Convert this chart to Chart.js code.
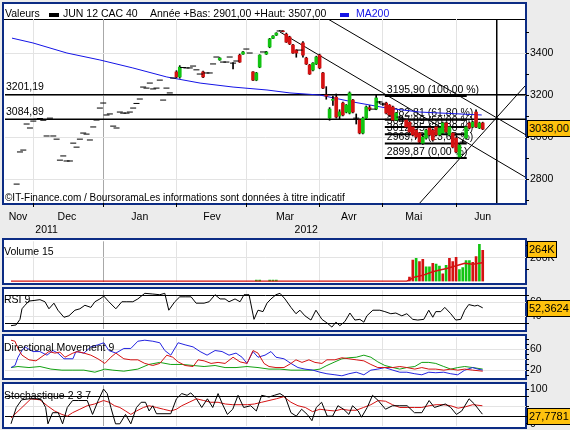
<!DOCTYPE html>
<html>
<head>
<meta charset="utf-8">
<title>JUN 12 CAC 40</title>
<script src="https://cdn.jsdelivr.net/npm/chart.js@4.4.1/dist/chart.umd.min.js"></script>
<style>
  html, body { margin: 0; padding: 0; }
  body { width: 570px; height: 430px; background: #ececec; position: relative; overflow: hidden;
         font-family: "Liberation Sans", Arial, sans-serif; font-size: 10.5px; color: #000; }
  .panel { position: absolute; left: 2px; width: 521px; background: #fff; border: 2px solid #0c2c84; }
  canvas { position: absolute; left: 0; }
  .txt { position: absolute; white-space: nowrap; line-height: 12px; }
  .sq { position: absolute; height: 4px; }
  .val { position: absolute; left: 527px; height: 15px; line-height: 15px; background: #ffc20e;
         border: 1px solid #000; font-size: 11px; padding: 0 1px; white-space: nowrap; }
</style>
</head>
<body>
<div class="panel" style="top:2px;height:199px"></div>
<div class="panel" style="top:238px;height:43px"></div>
<div class="panel" style="top:287px;height:41px"></div>
<div class="panel" style="top:334px;height:42px"></div>
<div class="panel" style="top:382px;height:43px"></div>
<div style="position:absolute;left:4px;top:19px;width:521px;height:1px;background:#000"></div>

<canvas id="priceChart" width="570" height="240" style="top:0"></canvas>
<canvas id="volChart" width="570" height="55" style="top:234px"></canvas>
<canvas id="rsiChart" width="570" height="53" style="top:283px"></canvas>
<canvas id="dmChart" width="570" height="54" style="top:330px"></canvas>
<canvas id="stochChart" width="570" height="55" style="top:378px"></canvas>

<div class="txt" style="left:5px;top:7px">Valeurs</div>
<div class="sq" style="left:49px;top:13px;width:10px;background:#000"></div>
<div class="txt" style="left:63px;top:7px">JUN 12 CAC 40</div>
<div class="txt" style="left:150px;top:7px">Année +Bas: 2901,00 +Haut: 3507,00</div>
<div class="sq" style="left:340px;top:13px;width:9px;background:#1414e6"></div>
<div class="txt" style="left:356px;top:7px;color:#1414e6">MA200</div>
<div class="txt" style="left:5px;top:192px;font-size:10px">©IT-Finance.com / BoursoramaLes informations sont données à titre indicatif</div>

<div class="txt" style="left:4px;top:245px">Volume 15</div>
<div class="txt" style="left:4px;top:293px">RSI 9</div>
<div class="txt" style="left:4px;top:341px">Directional Movement 9</div>
<div class="txt" style="left:4px;top:389px">Stochastique 2 3 7</div>

<div class="val" style="top:120px">3038,00</div>
<div class="val" style="top:241px">264K</div>
<div class="val" style="top:300px">52,3624</div>
<div class="val" style="top:408px">27,7781</div>

<script>
// x axis is counted in trading sessions (0 = mid Nov 2011)
const xMin = -0.5, xMax = 156;
const monthStarts = [8, 29, 51, 72, 94, 113, 135];
const yearStart = 29;
const monthMids = [3.4, 18.1, 40, 61.7, 83.6, 102.8, 122.3, 143];
const monthNames = ['Nov', 'Dec', 'Jan', 'Fev', 'Mar', 'Avr', 'Mai', 'Jun'];
const yearMids = [12, 90];
const yearNames = ['2011', '2012'];
const priceTicks = [2700, 2800, 2900, 3000, 3100, 3200, 3300, 3400, 3500];

// sessions 3..50: only a close is drawn
const firstDay = 3;
const earlyCloses = [2776, 2929, 2938, 3062, 3043, 3076, 3085, 3088, 3080, 3005,
  3090, 3005, 2990, 2890, 2910, 2886, 2886, 2971, 2952, 2990,
  3019, 3014, 2986, 3048, 3081, 3138, 3162, 3105, 3110, 3052,
  3043, 3119, 3114, 3114, 3119, 3138, 3160, 3181, 3238, 3233,
  3257, 3229, 3233, 3271, 3176, 3233, 3210, 3281];

// sessions 51..143: full candles
const candleStart = 51;
const opens = [3310, 3286, 3331, 3329, 3329, 3338, 3320, 3300, 3310, 3305,
  3305, 3348, 3381, 3367, 3357, 3357, 3381, 3352, 3362, 3390,
  3395, 3419, 3400, 3310, 3271, 3333, 3405, 3395, 3429, 3470,
  3485, 3505, 3505, 3490, 3476, 3438, 3414, 3414, 3448, 3376,
  3343, 3319, 3348, 3390, 3305, 3200, 3090, 3175, 3190, 3100,
  3162, 3119, 3114, 3176, 3090, 3081, 3019, 3090, 3140, 3133,
  3133, 3167, 3157, 3162, 3152, 3143, 3081, 3095, 3086, 3081,
  3071, 3048, 3033, 3019, 2971, 2995, 3043, 3033, 3048, 3010,
  3019, 3067, 3010, 3019, 2995, 2905, 2976, 2995, 3067, 3048,
  3119, 3043, 3067];
const highs = [3316, 3340, 3331, 3329, 3329, 3338, 3320, 3300, 3314, 3305,
  3305, 3348, 3381, 3378, 3357, 3357, 3381, 3355, 3362, 3395,
  3408, 3419, 3400, 3312, 3308, 3392, 3405, 3408, 3470, 3483,
  3497, 3507, 3507, 3495, 3480, 3442, 3416, 3414, 3455, 3380,
  3346, 3355, 3385, 3395, 3308, 3240, 3140, 3195, 3205, 3130,
  3166, 3155, 3215, 3180, 3110, 3085, 3095, 3148, 3150, 3133,
  3200, 3170, 3162, 3166, 3155, 3147, 3118, 3100, 3092, 3085,
  3075, 3052, 3038, 3022, 3005, 3038, 3048, 3038, 3052, 3048,
  3071, 3071, 3052, 3022, 2998, 2966, 2985, 3052, 3071, 3075,
  3130, 3071, 3071];
const lows = [3282, 3280, 3331, 3329, 3329, 3338, 3320, 3300, 3283, 3305,
  3305, 3348, 3381, 3365, 3357, 3357, 3381, 3324, 3362, 3355,
  3393, 3419, 3400, 3268, 3268, 3330, 3405, 3393, 3425, 3468,
  3483, 3505, 3500, 3450, 3440, 3398, 3380, 3414, 3380, 3345,
  3298, 3315, 3345, 3325, 3230, 3180, 3080, 3150, 3090, 3085,
  3100, 3115, 3110, 3115, 3062, 3015, 3015, 3085, 3125, 3133,
  3130, 3160, 3150, 3110, 3100, 3078, 3078, 3090, 3082, 3045,
  3020, 3005, 2995, 2970, 2965, 2990, 3005, 2980, 3005, 3005,
  3015, 3020, 3005, 2948, 2925, 2900, 2970, 2990, 3040, 3045,
  3045, 3040, 3035];
const closes = [3286, 3333, 3331, 3329, 3329, 3338, 3320, 3300, 3286, 3305,
  3305, 3348, 3381, 3376, 3357, 3357, 3381, 3352, 3362, 3357,
  3405, 3419, 3400, 3271, 3305, 3390, 3405, 3405, 3467, 3481,
  3495, 3505, 3502, 3452, 3443, 3400, 3400, 3414, 3390, 3348,
  3300, 3352, 3381, 3329, 3233, 3195, 3133, 3180, 3095, 3120,
  3105, 3152, 3210, 3119, 3090, 3019, 3090, 3143, 3133, 3133,
  3186, 3167, 3157, 3114, 3105, 3081, 3114, 3095, 3086, 3048,
  3024, 3010, 3000, 2976, 3000, 3033, 3010, 2986, 3010, 3043,
  3067, 3024, 3048, 2952, 2929, 2962, 2976, 3048, 3043, 3071,
  3048, 3067, 3038];

const ma200 = [[1.6, 3471], [7.9, 3448], [18.1, 3400], [28, 3367], [37.9, 3329], [48.1, 3286],
  [58.1, 3257], [68, 3238], [78.2, 3224], [85.1, 3210], [94.1, 3200], [104, 3167],
  [114.2, 3138], [124.1, 3119], [142.7, 3105]];

const supportLevels = [3201.19, 3084.89];
const fibLevels = [3195.90, 3082.81, 3047.89, 3012.95, 2969.73, 2899.87];
const fibPct = ['100,00 %', '61,80 %', '50,00 %', '38,20 %', '23,60 %', '0,00 %'];
const fibSpan = [113.6, 138.2];
const trendLines = [
  [[96.5, 3562], [156, 3010]],
  [[82.1, 3500], [155.7, 2810]],
  [[124.1, 2686], [155.7, 3243]],
  [[147.2, 3562], [147.2, 2686]]
];

// volume
const volStart = 121;
const volumes = [35, 180, 195, 168, 186, 122, 122, 152, 146, 128, 64, 136, 195, 168, 204,
  99, 116, 176, 176, 160, 210, 314, 264].map(v => v * 1000);
const volUp = [0, 0, 1, 0, 0, 1, 1, 0, 1, 1, 0, 1, 0, 0, 0, 1, 1, 1, 1, 0, 0, 1, 0];
const earlyVolDays = [75, 76, 79, 80, 81];
const earlyVols = [10000, 10000, 10000, 10000, 10000];
const volMA = [[1.3, 0], [120.2, 0], [122.5, 35000], [124.7, 48000], [128, 80000], [130.1, 96000],
  [132.2, 108000], [134.5, 128000], [137.6, 152000], [140, 144000], [142.9, 157000]];

const rsi = [[1.3, 27], [2.8, 28], [4, 36], [4.6, 51], [5.5, 56], [6.7, 62], [8.5, 63], [10, 64],
  [11.5, 61], [12.7, 51], [14.2, 59], [15.4, 49], [17.2, 39], [18.7, 41], [20.5, 49], [22, 51],
  [23.5, 56], [25.3, 53], [26.5, 61], [28, 65], [29.2, 69], [30.7, 61], [32.8, 51], [34.6, 61],
  [36.1, 61], [37.9, 61], [39.4, 65], [41.5, 73], [43.9, 72], [46, 71], [47.5, 73], [48.7, 49],
  [50.5, 61], [52, 68], [53.6, 68], [55.4, 68], [56.9, 59], [59.3, 59], [60.8, 61], [62.6, 71],
  [64.1, 65], [65.6, 65], [66.8, 61], [68.6, 65], [70.1, 61], [71.3, 71], [72.8, 71], [74.3, 36],
  [75.5, 49], [77, 47], [78.2, 59], [79.4, 65], [80.9, 71], [82.1, 73], [83.6, 65], [85.4, 53],
  [86.9, 44], [88.1, 49], [89.6, 41], [91.4, 35], [92.9, 49], [94.7, 36], [96.2, 31], [97.7, 25],
  [98.9, 32], [100.1, 27], [101.6, 33], [103.1, 45], [104.6, 35], [106.1, 36], [107.3, 32], [108.2, 41],
  [110, 49], [112.1, 49], [113.6, 47], [115.4, 44], [116.9, 45], [118.7, 41], [120.2, 44], [122, 36],
  [123.5, 35], [125.3, 36], [126.8, 49], [128, 39], [128.9, 47], [130.4, 47], [131.6, 53], [133.4, 44],
  [134.9, 35], [136.4, 36], [137.6, 49], [138.8, 57], [140.6, 55], [141.5, 56], [143, 52.36]];

const dmMinus = [[1.3, 78], [2.5, 76], [3.4, 62], [4.6, 49], [6.7, 40], [8.8, 38], [11.2, 49], [12.7, 56],
  [14.5, 53], [16, 55], [17.5, 45], [19.9, 53], [21.4, 56], [23.2, 53], [25.3, 49], [27.4, 42],
  [29.5, 33], [31.3, 45], [32.8, 53], [35.2, 42], [37.3, 40], [39.4, 40], [41.5, 33], [43.9, 29],
  [46, 33], [48.1, 49], [49.9, 45], [51.5, 36], [53.6, 29], [56, 27], [57.5, 40], [59.3, 38],
  [61.4, 33], [63.5, 35], [65.6, 33], [68, 45], [70.1, 36], [72.2, 33], [74, 58], [75.5, 53],
  [77.3, 33], [78.8, 27], [80.9, 25], [83.3, 25], [85.4, 33], [86.9, 40], [88.7, 35], [90.8, 40],
  [92.6, 35], [94.7, 33], [96.2, 40], [98.6, 40], [100.7, 44], [102.8, 42], [105, 40], [107.3, 38],
  [109.4, 31], [111.5, 25], [113.6, 25], [116, 25], [118.1, 27], [120.2, 25], [122.6, 22], [124.7, 25],
  [126.8, 22], [128.9, 22], [131.3, 20], [133.4, 22], [135.5, 20], [137.6, 22], [140, 20], [143, 18]];
const dmPlus = [[1.3, 25], [2.5, 29], [3.4, 45], [4.6, 58], [5.5, 65], [7.9, 56], [10, 56], [12.1, 49],
  [13.9, 58], [15.4, 53], [17.2, 42], [19.9, 42], [20.8, 56], [23.2, 53], [25.3, 65], [27.4, 69],
  [29.2, 73], [30.7, 58], [32.8, 53], [35.2, 62], [37.3, 62], [39.4, 76], [41.5, 78], [43.9, 76],
  [46, 73], [47.5, 58], [49.3, 49], [51.5, 73], [53.6, 69], [56, 65], [58.1, 56], [60.2, 49],
  [62.6, 58], [64.7, 56], [66.8, 49], [68.9, 53], [70.7, 45], [72.2, 33], [74, 56], [75.5, 45],
  [77.6, 49], [79.4, 56], [80.9, 45], [83.3, 42], [85.4, 33], [87.5, 25], [89.6, 22], [92, 20],
  [94.1, 16], [96.2, 13], [98.6, 11], [100.7, 9], [102.8, 13], [105, 16], [107.3, 11], [109.4, 20],
  [111.5, 22], [113.6, 25], [116, 20], [118.1, 16], [120.2, 16], [122.6, 13], [124.7, 11], [126.8, 16],
  [128.9, 15], [131.3, 16], [133.4, 13], [135.5, 11], [137.6, 20], [140, 25], [141.5, 22], [143, 20]];
const adxDays = [1.3, 3.4, 6.7, 10, 13.3, 16.6, 19.9, 23.2, 26.5, 29.5, 31.9, 35.2, 39.4, 42.7, 46, 49.3,
  52.7, 56, 59.3, 62.6, 65.6, 68.9, 72.2, 75.5, 78.8, 82.1, 85.4, 88.7, 92, 94.1, 96.2, 98.6,
  100.7, 102.8, 105, 107.3, 109.4, 111.5, 113.6, 116, 118.1, 120.2, 122.6, 124.7, 126.8, 128.9,
  131.3, 133.4, 135.5, 137.6, 140, 143];
const adx = [25, 27, 25, 27, 22, 20, 20, 20, 16, 22, 20, 18, 22, 31, 35, 31, 31, 29, 27, 29, 25, 25, 27, 25,
  22, 22, 20, 20, 20, 22, 29, 36, 42, 44, 45, 49, 45, 36, 29, 25, 22, 25, 27, 35, 35, 33, 27, 22,
  25, 27, 25, 22];

const stochKDays = [1.3, 2.9, 4.5, 6.7, 8.9, 10.5, 11.7, 12.4, 13.8, 15.5, 16.8, 18.2, 19.8, 21.5, 24.2, 25.8,
  27.5, 29.1, 30.2, 31.3, 32.7, 34, 35.7, 37.3, 39, 40.4, 41.7, 42.8, 43.9, 45, 49.3, 51, 52.6, 54.2,
  55.3, 57, 58.6, 60.3, 61.9, 63.5, 64.8, 66.3, 67.9, 69.5, 71.2, 73.3, 75, 76.6, 78.8, 80.4, 82.1,
  83.7, 85.4, 87, 88.6, 90.3, 91.7, 93, 94.6, 96.3, 97.9, 99.5, 101.2, 102.8, 103.9, 105.6, 106.6,
  108.3, 109.9, 111.6, 113.8, 115.9, 118.1, 120.3, 122.5, 124.7, 126.9, 128.5, 130.1, 131.8, 133.4,
  135.1, 136.7, 138.9, 140.5, 142.9];
const stochK = [0, 47, 69, 72, 72, 69, 47, 0, 32, 32, 0, 47, 67, 67, 67, 27, 67, 100, 87, 47,
  0, 0, 27, 0, 47, 62, 62, 37, 52, 29, 29, 72, 87, 82, 89, 72, 47, 72, 47, 87,
  57, 27, 42, 82, 47, 52, 37, 82, 77, 82, 87, 77, 32, 22, 42, 27, 9, 47, 62, 22,
  22, 52, 42, 27, 52, 37, 19, 47, 82, 67, 42, 52, 52, 52, 32, 32, 67, 47, 52, 57,
  47, 27, 37, 72, 57, 27.78];
const stochDDays = [1.3, 4.6, 7.3, 10, 12.2, 14.4, 16.6, 18.2, 19.8, 22, 24.2, 26.4, 29.1, 30.8, 32.4, 34,
  35.7, 37.3, 39, 41.1, 42.8, 45, 47.1, 49.3, 51, 52.6, 54.8, 57, 59.2, 61.3, 63.5, 65.7, 67.9, 70.1,
  72.3, 74.4, 76.6, 78.8, 81, 83.2, 85.4, 87.5, 89.7, 91.9, 94.1, 96.3, 98.5, 100.6, 102.8, 105,
  107.2, 109.4, 111.6, 113.8, 115.9, 118.1, 120.3, 122.5, 124.7, 126.9, 129, 131.2, 133.4, 135.6,
  137.8, 140, 142.9];
const stochD = [17, 47, 72, 69, 52, 37, 27, 22, 32, 42, 52, 57, 67, 62, 52, 47, 37, 27, 37, 47,
  52, 47, 42, 37, 42, 52, 62, 72, 67, 62, 62, 57, 55, 55, 55, 57, 62, 67, 72, 78,
  62, 52, 47, 35, 42, 39, 37, 42, 39, 39, 47, 55, 67, 65, 55, 47, 47, 47, 47, 52,
  55, 55, 52, 45, 49, 55, 52];

const GREEN = '#12c412', RED = '#d41212', GRID = '#e3e3e3', NONE = 'rgba(0,0,0,0)';

Chart.defaults.font.family = '"Liberation Sans", Arial, sans-serif';
Chart.defaults.font.size = 10.5;
Chart.defaults.color = '#000';

const fmt = v => v.toFixed(2).replace('.', ',');
const pts = arr => arr.map(([x, y]) => ({ x, y }));
const zip = (xs, ys) => xs.map((x, i) => ({ x, y: ys[i] }));
const hLine = v => [{ x: xMin, y: v }, { x: xMax, y: v }];
const line = (data, color, width, order) => ({
  type: 'line', data, borderColor: color, borderWidth: width, pointRadius: 0,
  fill: false, tension: 0, order
});

function timeScale(withLabels) {
  const isStart = c => c.tick && monthStarts.includes(c.tick.value);
  return {
    type: 'linear', min: xMin, max: xMax, offset: false,
    afterBuildTicks: s => {
      const vals = withLabels ? monthStarts.concat(monthMids, yearMids) : monthStarts.slice();
      s.ticks = vals.sort((a, b) => a - b).map(v => ({ value: v }));
    },
    afterFit: s => { s.height = withLabels ? 37 : 0; s.paddingLeft = 0; s.paddingRight = 0; },
    grid: {
      offset: false,
      color: c => isStart(c) ? (c.tick.value === yearStart ? '#a8a8a8' : GRID) : NONE,
      tickColor: c => isStart(c) ? '#000' : NONE,
      tickLength: 4,
      drawTicks: withLabels
    },
    border: { display: false },
    ticks: {
      display: withLabels, autoSkip: false, maxRotation: 0, minRotation: 0, padding: 3,
      font: { size: 10.5, lineHeight: 1.3 },
      callback: v => {
        const m = monthMids.indexOf(v);
        if (m >= 0) return monthNames[m];
        const y = yearMids.indexOf(v);
        if (y >= 0) return ['', yearNames[y]];
        return '';
      }
    }
  };
}

function valueScale(min, max, tickVals, label, gridColor) {
  return {
    position: 'right', min, max,
    afterBuildTicks: s => { s.ticks = tickVals.map(v => ({ value: v })); },
    afterFit: s => { s.width = 44; },
    grid: { color: c => c.tick ? gridColor(c.tick.value) : NONE, tickColor: '#000', tickLength: 3 },
    border: { display: false },
    ticks: { padding: 1, autoSkip: false, callback: label }
  };
}

function makeChart(id, padTop, padBottom, x, y, datasets, plugins) {
  return new Chart(document.getElementById(id), {
    type: 'bar',
    data: { datasets },
    options: {
      responsive: false, animation: false, events: [],
      layout: { padding: { left: 5, top: padTop, bottom: padBottom, right: 0 } },
      plugins: { legend: { display: false }, tooltip: { enabled: false } },
      scales: { x, y }
    },
    plugins: plugins || []
  });
}

// ---- price panel ----
const bodies = [], bodyColors = [], wicks = [], dashes = [];
earlyCloses.forEach((c, i) => dashes.push({ x: firstDay + i, y: c }));
closes.forEach((c, i) => {
  const d = candleStart + i, o = opens[i];
  if (highs[i] > lows[i]) wicks.push({ x: d, y: [lows[i], highs[i]] });
  if (Math.abs(c - o) < 3) {
    dashes.push({ x: d, y: c });
  } else {
    bodies.push({ x: d, y: [Math.min(o, c), Math.max(o, c)] });
    bodyColors.push(c > o ? GREEN : RED);
  }
});

const levelLabels = {
  id: 'levelLabels',
  beforeDatasetsDraw(chart) {
    const { ctx, chartArea, scales: { x, y } } = chart;
    ctx.save();
    ctx.font = '10.5px "Liberation Sans", Arial, sans-serif';
    ctx.fillStyle = '#000';
    ctx.textBaseline = 'bottom';
    supportLevels.forEach(v => ctx.fillText(fmt(v), chartArea.left + 1, y.getPixelForValue(v) - 2));
    fibLevels.forEach((v, i) =>
      ctx.fillText(fmt(v) + ' (' + fibPct[i] + ')', x.getPixelForValue(fibSpan[0]) + 2, y.getPixelForValue(v) - 1));
    ctx.restore();
  }
};

const priceSets = [
  { type: 'line', data: dashes, showLine: false, pointStyle: 'line', pointRadius: 3,
    pointBorderWidth: 1, pointBorderColor: '#000', borderColor: '#000', order: 0 },
  { data: bodies, backgroundColor: bodyColors, barThickness: 3, grouped: false, order: 1 },
  { data: wicks, backgroundColor: '#000', barThickness: 1, grouped: false, order: 2 },
  line(pts(ma200), '#1414e6', 1, 3)
];
trendLines.forEach(t => priceSets.push(line(pts(t), '#000', 1, 4)));
fibLevels.forEach(v => priceSets.push(line([{ x: fibSpan[0], y: v }, { x: fibSpan[1], y: v }], '#000', 2, 5)));
supportLevels.forEach(v => priceSets.push(line(hLine(v), '#000', 1.5, 6)));

makeChart('priceChart', 19, 0, timeScale(true),
  valueScale(2686, 3562, priceTicks, v => v % 200 === 0 ? String(v) : '', v => v % 200 === 0 ? GRID : NONE),
  priceSets, [levelLabels]);

// ---- volume ----
const volBars = volumes.map((v, i) => ({ x: volStart + i, y: v }));
const volColors = volUp.map(u => u ? GREEN : RED);
earlyVolDays.forEach((d, i) => { volBars.push({ x: d, y: earlyVols[i] }); volColors.push(GREEN); });
makeChart('volChart', 6, 6, timeScale(false),
  valueScale(-4000, 340000, [100000, 200000, 300000], v => v === 200000 ? '200K' : '', v => v === 200000 ? GRID : NONE),
  [line(pts(volMA), RED, 1.5, 0),
   { data: volBars, backgroundColor: volColors, barThickness: 2, grouped: false, order: 1 }]);

// ---- RSI 9 ----
makeChart('rsiChart', 6, 6, timeScale(false),
  valueScale(22.7, 77.3, [30, 40, 60, 70], v => (v === 40 || v === 60) ? String(v) : '',
    v => (v === 30 || v === 70) ? '#000' : GRID),
  [line(pts(rsi), '#000', 1, 0)]);

// ---- Directional Movement 9 ----
makeChart('dmChart', 6, 6, timeScale(false),
  valueScale(7.3, 83.6, [10, 20, 30, 40, 50, 60, 70, 80], v => (v === 20 || v === 60) ? String(v) : '',
    v => (v === 20 || v === 40 || v === 60) ? GRID : NONE),
  [line(pts(dmMinus), RED, 1, 0), line(pts(dmPlus), '#2424e0', 1, 1), line(zip(adxDays, adx), '#12a012', 1, 2)]);

// ---- Stochastique 2 3 7 ----
makeChart('stochChart', 6, 6, timeScale(false),
  valueScale(-5.4, 110.8, [0, 20, 50, 80, 100], v => (v === 0 || v === 100) ? String(v) : '',
    v => (v === 20 || v === 80) ? '#000' : (v === 50 ? GRID : NONE)),
  [line(zip(stochKDays, stochK), '#000', 1, 0), line(zip(stochDDays, stochD), RED, 1, 1)]);
</script>
</body>
</html>
